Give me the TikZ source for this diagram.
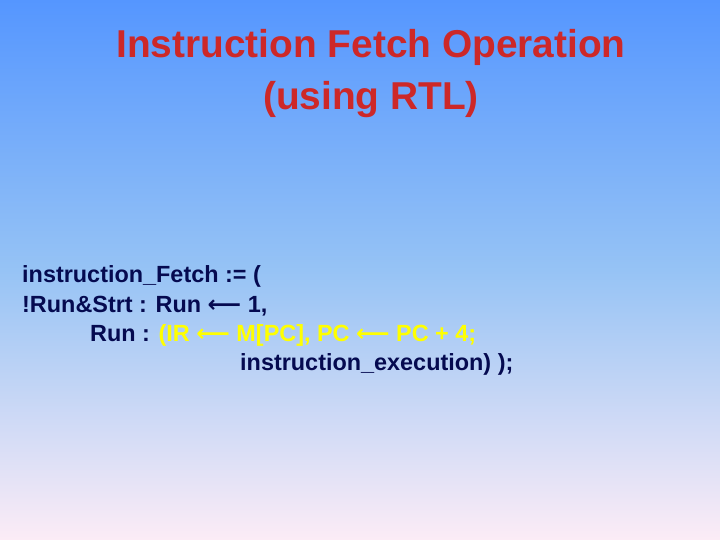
\documentclass[tikz,border=0pt]{standalone}
\usepackage{fontspec}
\setmainfont{Liberation Sans}
\newfontfamily\dv{DejaVu Sans}
\definecolor{topblue}{RGB}{85,150,255}
\definecolor{midblue}{RGB}{150,195,245}
\definecolor{botpink}{RGB}{252,236,246}
\definecolor{titlered}{RGB}{205,40,40}
\definecolor{navy}{RGB}{5,10,80}
\definecolor{hl}{RGB}{255,255,0}
\newcommand{\la}{{\dv\char"27F5}}
\begin{document}
\begin{tikzpicture}[x=1bp,y=-1bp,
  title/.style={font=\bfseries\fontsize{39}{44}\selectfont,text=titlered},
  code/.style={font=\bfseries\fontsize{23.5}{27}\selectfont,text=navy,anchor=west,inner sep=0pt}]
\shade[top color=topblue,bottom color=botpink,middle color=midblue] (0,0) rectangle (720,540);
\useasboundingbox (0,0) rectangle (720,540);
\node[title] (t1) at (371,47) {Instruction Fetch Operation};
\node[title] (t2) at (371,100) {(using RTL)};
\node[code] (l1) at (22,276) {instruction\_Fetch := (};
\node[code] (l2) at (22,306) {!Run\&Strt : Run \la\ 1,};
\node[code] (l3) at (90,335) {Run : \textcolor{hl}{(IR \la\ M[PC], PC \la\ PC + 4;}};
\node[code] (l4) at (240,364) {instruction\_execution) );};
\end{tikzpicture}
\end{document}
